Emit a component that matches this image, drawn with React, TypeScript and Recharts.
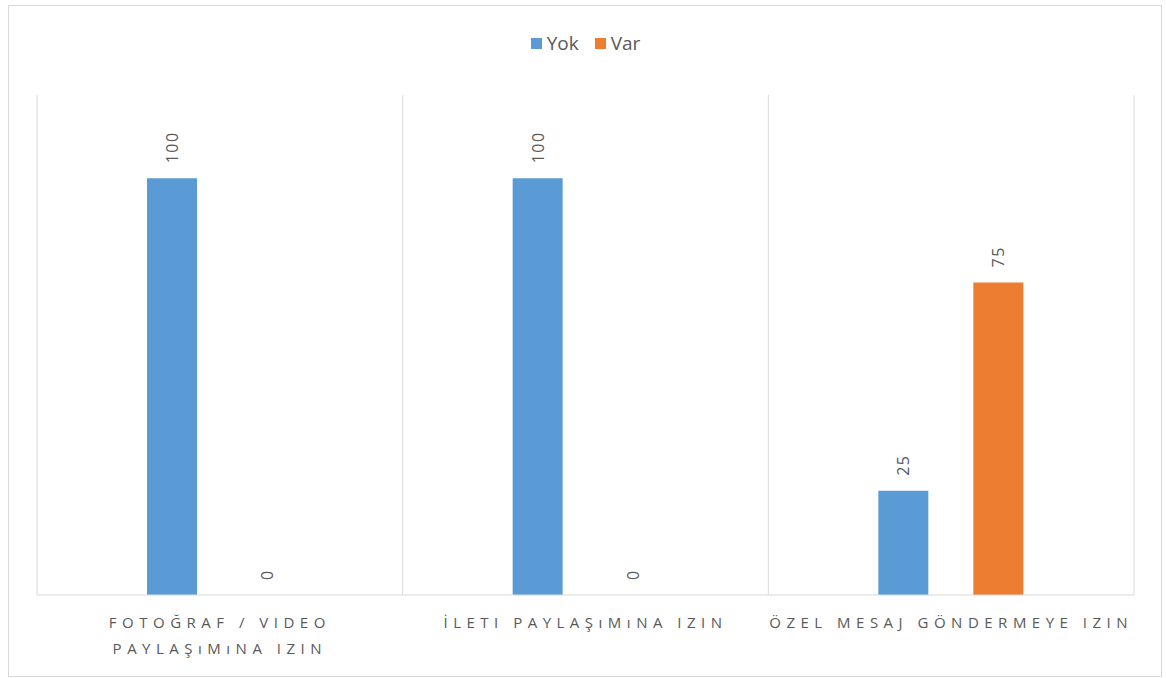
import React from 'react';
import { BarChart, Bar, XAxis, YAxis, CartesianGrid, Legend, LabelList } from 'recharts';

const categories = ['FOTOĞRAF / VIDEO\nPAYLAŞıMıNA IZIN', 'İLETI PAYLAŞıMıNA IZIN', 'ÖZEL MESAJ GÖNDERMEYE IZIN'];
const yokValues = [100, 100, 25];
const varValues = [0, 0, 75];
const seriesNames = ['Yok', 'Var'];
const colors = ['#5B9BD5', '#ED7D31'];

const data = categories.map((c, i) => ({ name: c, yok: yokValues[i], var: varValues[i] }));

const FONT = '"Open Sans", "Liberation Sans", sans-serif';

const Tick = (props: any) => {
  const { x, y, payload } = props;
  const lines = String(payload.value).split('\n');
  return (
    <g transform={`translate(${x},${y})`}>
      {lines.map((l: string, i: number) => (
        <text
          key={i}
          x={0}
          y={25 + i * 26}
          textAnchor="middle"
          fill="#595959"
          fontSize={15}
          fontFamily={FONT}
          style={{ letterSpacing: '5.5px' }}
        >
          {l}
        </text>
      ))}
    </g>
  );
};

const RotLabel = (props: any) => {
  const { x, y, width, value } = props;
  const cx = x + width / 2;
  const cy = y - 15;
  return (
    <text
      x={cx}
      y={cy}
      transform={`rotate(-90 ${cx} ${cy})`}
      textAnchor="start"
      dominantBaseline="central"
      fill="#595959"
      fontSize={16}
      fontFamily={FONT}
      style={{ letterSpacing: '1.5px' }}
    >
      {value}
    </text>
  );
};

const LegendContent = () => (
  <div style={{ display: 'flex', justifyContent: 'center', gap: 16, fontFamily: FONT, fontSize: 19, color: '#595959', lineHeight: '20px' }}>
    {seriesNames.map((n, i) => (
      <div key={n} style={{ display: 'flex', alignItems: 'center' }}>
        <span style={{ display: 'inline-block', width: 11, height: 11, background: colors[i], marginRight: 5 }} />
        <span>{n}</span>
      </div>
    ))}
  </div>
);

export default function App() {
  return (
    <div style={{ position: 'absolute', left: 0, top: 0, width: 1166, height: 678, background: '#fff' }}>
      <div
        style={{
          position: 'absolute',
          left: 8,
          top: 5,
          width: 1152,
          height: 670,
          border: '1px solid #d9d9d9',
        }}
      >
        <BarChart
          width={1152}
          height={670}
          data={data}
          margin={{ top: 69, right: 27, bottom: 0, left: 28 }}
          barSize={50}
          barGap={45}
        >
          <CartesianGrid
            horizontal={false}
            vertical={true}
            stroke="#d9d9d9"
            verticalCoordinatesGenerator={({ offset }: any) => {
              const n = categories.length;
              const out: number[] = [];
              for (let i = 0; i <= n; i++) out.push(offset.left + (offset.width * i) / n);
              return out;
            }}
          />
          <XAxis
            dataKey="name"
            tick={<Tick />}
            tickLine={false}
            axisLine={{ stroke: '#d9d9d9' }}
            height={81}
            interval={0}
          />
          <YAxis hide domain={[0, 120]} />
          <Legend verticalAlign="top" align="center" content={<LegendContent />} wrapperStyle={{ top: 27 }} />
          <Bar dataKey="yok" name="Yok" fill={colors[0]} isAnimationActive={false} minPointSize={0.01}>
            <LabelList dataKey="yok" content={<RotLabel />} />
          </Bar>
          <Bar dataKey="var" name="Var" fill={colors[1]} isAnimationActive={false} minPointSize={0.01}>
            <LabelList dataKey="var" content={<RotLabel />} />
          </Bar>
        </BarChart>
      </div>
    </div>
  );
}
